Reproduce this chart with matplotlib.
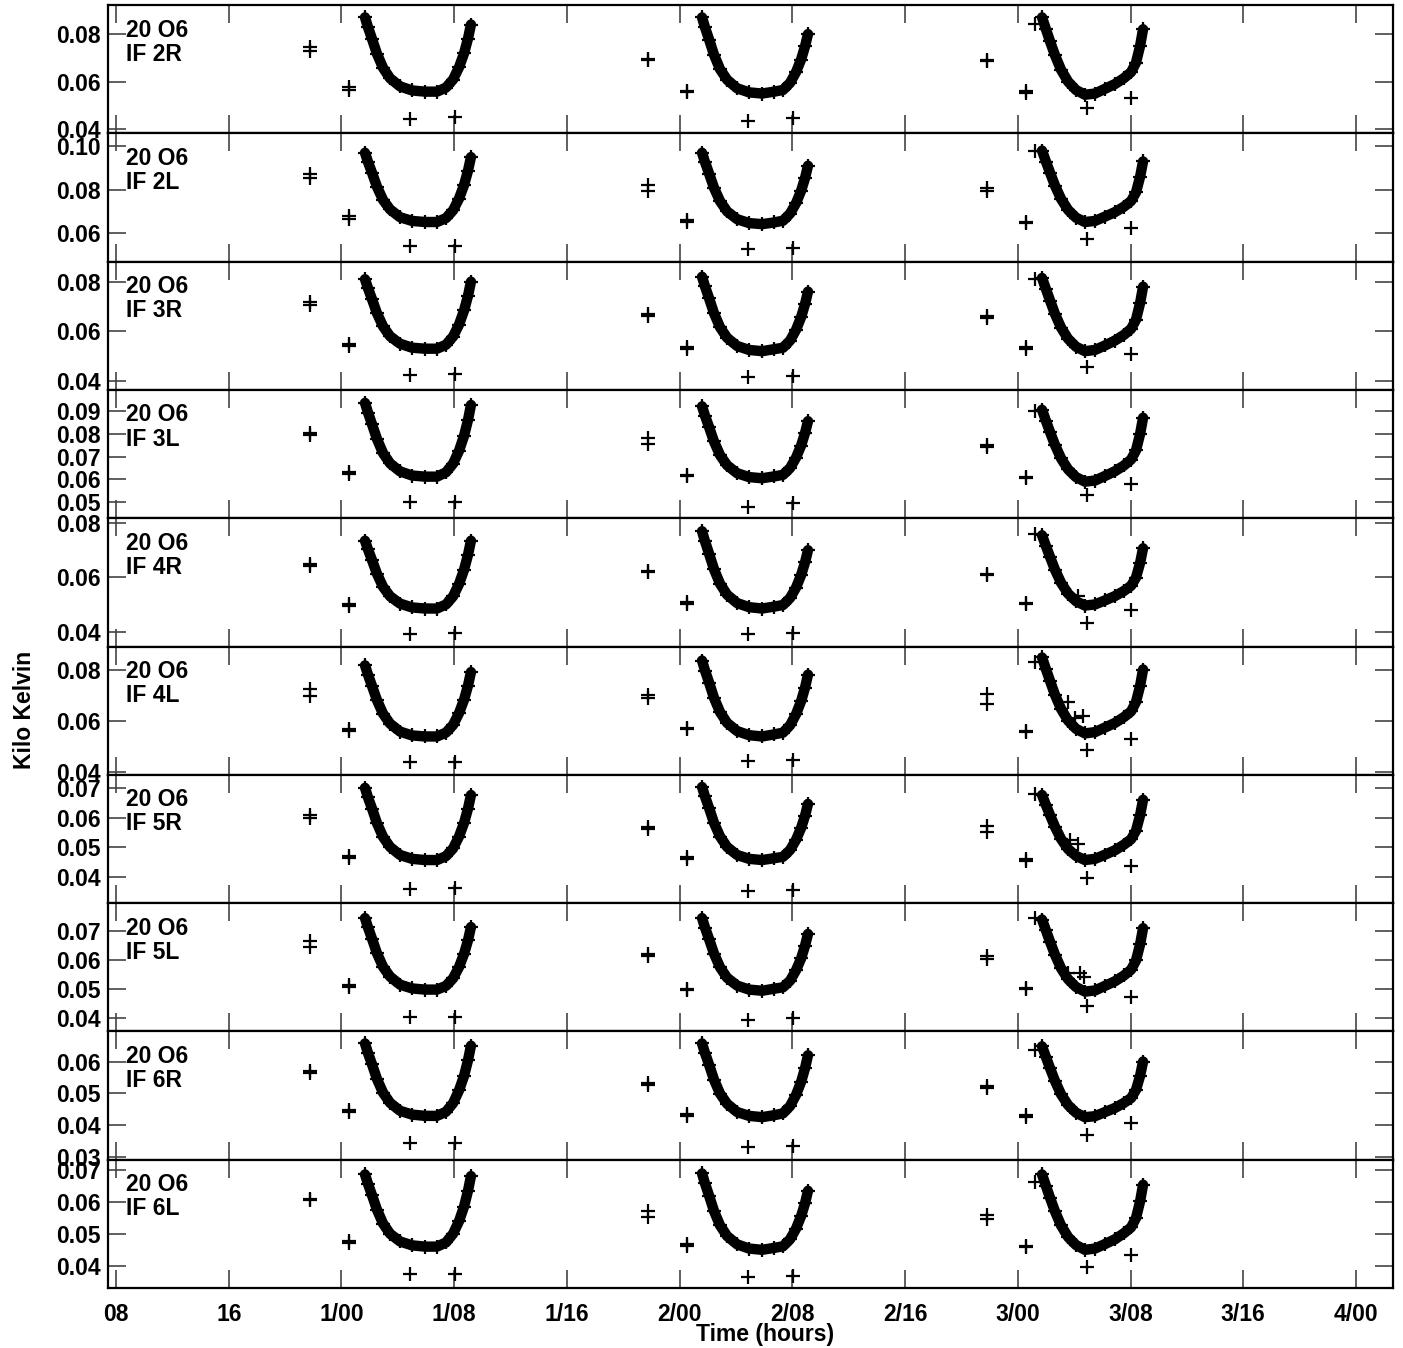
import matplotlib
matplotlib.use("Agg")
import matplotlib.pyplot as plt

plt.rcParams['font.family'] = ['Liberation Sans', 'DejaVu Sans']
plt.rcParams['font.weight'] = 'bold'

# panel names and axes
panels = ['IF 2R', 'IF 2L', 'IF 3R', 'IF 3L', 'IF 4R', 'IF 4L', 'IF 5R', 'IF 5L', 'IF 6R', 'IF 6L']
source = '20 O6'
ylims = [(0.0383, 0.0922), (0.0467, 0.106), (0.0364, 0.0881), (0.0430, 0.0992), (0.0345, 0.0818),
         (0.0388, 0.0890), (0.0312, 0.0744), (0.0352, 0.0797), (0.0291, 0.0695), (0.0331, 0.0731)]
yticks = [[0.04, 0.06, 0.08], [0.06, 0.08, 0.10], [0.04, 0.06, 0.08], [0.05, 0.06, 0.07, 0.08, 0.09],
          [0.04, 0.06, 0.08], [0.04, 0.06, 0.08], [0.04, 0.05, 0.06, 0.07], [0.04, 0.05, 0.06, 0.07],
          [0.03, 0.04, 0.05, 0.06], [0.04, 0.05, 0.06, 0.07]]
xtick_hours = [8, 16, 24, 32, 40, 48, 56, 64, 72, 80, 88, 96]
xtick_labels = ['08', '16', '1/00', '1/08', '1/16', '2/00', '2/08', '2/16', '3/00', '3/08', '3/16', '4/00']

# time samples (hours) of the dense scans
t_day1 = [25.67, 25.88, 26.17, 26.52, 26.95, 27.45, 28.16, 29.01, 29.93, 30.78, 31.42, 31.92, 32.34, 32.70, 32.98, 33.19]
t_day2 = [49.59, 49.80, 50.09, 50.44, 50.87, 51.37, 52.08, 52.93, 53.85, 54.70, 55.34, 55.84, 56.26, 56.62, 56.90, 57.11]
t_day3 = [73.72, 74.00, 74.29, 74.64, 75.07, 75.57, 76.13, 76.77, 77.48, 78.19, 78.90, 79.54, 80.04, 80.39, 80.68, 80.89]

day1_vals = {
    'IF 2R': [.087, .0829, .0779, .0717, .0658, .0614, .0580, .0563, .0558, .0558, .0575, .0609, .0660, .0719, .0781, .0840],
    'IF 2L': [.097, .0928, .0877, .0813, .0752, .0708, .0672, .0655, .0650, .0650, .0668, .0704, .0758, .0821, .0887, .0950],
    'IF 3R': [.081, .0774, .0729, .0673, .0620, .0580, .0550, .0534, .0530, .0530, .0546, .0579, .0627, .0684, .0743, .0800],
    'IF 3L': [.0935, .0893, .0841, .0777, .0715, .0670, .0635, .0617, .0612, .0612, .0631, .0669, .0725, .0791, .0860, .0926],
    'IF 4R': [.0735, .0703, .0663, .0613, .0565, .0530, .0503, .0489, .0485, .0485, .0500, .0530, .0575, .0628, .0683, .0735],
    'IF 4L': [.0816, .0780, .0735, .0680, .0627, .0588, .0557, .0542, .0538, .0538, .0553, .0583, .0629, .0682, .0737, .0790],
    'IF 5R': [.0700, .0668, .0630, .0581, .0535, .0501, .0474, .0461, .0457, .0457, .0470, .0496, .0536, .0582, .0630, .0676],
    'IF 5L': [.0745, .0713, .0673, .0623, .0576, .0542, .0514, .0501, .0497, .0497, .0510, .0536, .0575, .0621, .0668, .0714],
    'IF 6R': [.0657, .0627, .0591, .0545, .0502, .0470, .0445, .0433, .0429, .0429, .0442, .0469, .0509, .0555, .0604, .0650],
    'IF 6L': [.0685, .0656, .0620, .0575, .0532, .0500, .0476, .0464, .0460, .0460, .0473, .0500, .0539, .0585, .0634, .0680],
}
day2_vals = {
    'IF 2R': [.087, .0828, .0777, .0713, .0652, .0608, .0572, .0555, .0550, .0558, .0565, .0595, .0640, .0693, .0748, .0800],
    'IF 2L': [.097, .0927, .0874, .0808, .0746, .0699, .0663, .0645, .0640, .0648, .0656, .0689, .0737, .0794, .0853, .0910],
    'IF 3R': [.082, .0781, .0733, .0673, .0616, .0574, .0541, .0525, .0520, .0528, .0534, .0563, .0606, .0657, .0710, .0760],
    'IF 3L': [.0920, .0879, .0829, .0766, .0706, .0662, .0627, .0610, .0605, .0613, .0620, .0650, .0695, .0748, .0803, .0855],
    'IF 4R': [.0770, .0733, .0687, .0630, .0576, .0536, .0505, .0490, .0485, .0492, .0498, .0524, .0562, .0608, .0655, .0700],
    'IF 4L': [.0835, .0796, .0749, .0689, .0633, .0591, .0559, .0543, .0538, .0546, .0553, .0582, .0625, .0676, .0729, .0780],
    'IF 5R': [.0703, .0671, .0632, .0582, .0536, .0501, .0474, .0461, .0457, .0463, .0468, .0491, .0525, .0565, .0606, .0646],
    'IF 5L': [.0745, .0712, .0672, .0622, .0574, .0538, .0511, .0497, .0493, .0500, .0505, .0528, .0564, .0605, .0649, .0690],
    'IF 6R': [.0657, .0627, .0590, .0543, .0499, .0467, .0441, .0429, .0425, .0431, .0437, .0460, .0495, .0536, .0579, .0620],
    'IF 6L': [.0688, .0657, .0619, .0571, .0526, .0493, .0467, .0454, .0450, .0456, .0461, .0483, .0516, .0555, .0595, .0634],
}
day3_vals = {
    'IF 2R': [.087, .0820, .0769, .0711, .0650, .0600, .0565, .0545, .0550, .0570, .0590, .0615, .0640, .0680, .0750, .0820],
    'IF 2L': [.098, .0929, .0878, .0818, .0757, .0706, .0670, .0650, .0655, .0675, .0696, .0721, .0747, .0787, .0859, .0930],
    'IF 3R': [.0815, .0770, .0724, .0670, .0615, .0570, .0538, .0520, .0525, .0543, .0563, .0586, .0610, .0647, .0714, .0780],
    'IF 3L': [.0905, .0856, .0807, .0751, .0692, .0644, .0610, .0590, .0595, .0615, .0636, .0661, .0687, .0727, .0799, .0870],
    'IF 4R': [.0755, .0715, .0675, .0628, .0580, .0540, .0512, .0496, .0500, .0515, .0531, .0550, .0569, .0599, .0653, .0707],
    'IF 4L': [.0847, .0801, .0755, .0701, .0646, .0600, .0568, .0550, .0555, .0573, .0591, .0614, .0636, .0673, .0736, .0800],
    'IF 5R': [.0676, .0642, .0608, .0569, .0528, .0494, .0471, .0457, .0461, .0475, .0490, .0509, .0527, .0556, .0608, .0660],
    'IF 5L': [.0740, .0702, .0663, .0618, .0571, .0533, .0506, .0490, .0494, .0510, .0526, .0546, .0566, .0598, .0654, .0710],
    'IF 6R': [.0648, .0614, .0579, .0539, .0497, .0463, .0439, .0425, .0428, .0441, .0454, .0470, .0485, .0511, .0555, .0600],
    'IF 6L': [.0685, .0649, .0612, .0570, .0526, .0490, .0465, .0450, .0454, .0468, .0483, .0502, .0520, .0549, .0601, .0653],
}

# isolated scans
t_iso = [21.77, 21.77, 24.54, 24.54, 28.87, 32.06,
         45.76, 45.76, 48.52, 48.52, 52.85, 56.05,
         69.82, 69.82, 72.58, 72.58, 76.91, 80.04, 73.22]
iso_vals = {
    'IF 2R': [.0745, .0730, .0578, .0565, .0443, .0450, .0697, .0690, .0562, .0557, .0433, .0448, .0693, .0688, .0560, .0553, .0488, .0531, .0842],
    'IF 2L': [.0870, .0855, .0680, .0665, .0537, .0540, .0820, .0795, .0657, .0652, .0527, .0530, .0805, .0795, .0652, .0647, .0570, .0620, .0980],
    'IF 3R': [.0720, .0705, .0550, .0540, .0425, .0427, .0670, .0660, .0537, .0530, .0415, .0420, .0660, .0652, .0537, .0530, .0455, .0510, .0810],
    'IF 3L': [.0805, .0795, .0632, .0625, .0500, .0500, .0780, .0755, .0620, .0613, .0478, .0495, .0750, .0740, .0612, .0605, .0530, .0580, .0900],
    'IF 4R': [.0650, .0640, .0502, .0495, .0390, .0393, .0622, .0618, .0508, .0502, .0390, .0396, .0613, .0608, .0505, .0500, .0433, .0480, .0760],
    'IF 4L': [.0725, .0695, .0566, .0560, .0440, .0440, .0700, .0690, .0573, .0567, .0443, .0447, .0705, .0665, .0560, .0555, .0485, .0528, .0830],
    'IF 5R': [.0607, .0600, .0470, .0463, .0360, .0363, .0567, .0562, .0467, .0460, .0353, .0356, .0570, .0550, .0460, .0455, .0397, .0437, .0680],
    'IF 5L': [.0665, .0645, .0512, .0507, .0403, .0403, .0620, .0614, .0500, .0495, .0393, .0400, .0612, .0603, .0503, .0498, .0441, .0472, .0745],
    'IF 6R': [.0570, .0565, .0447, .0441, .0343, .0343, .0532, .0527, .0435, .0430, .0330, .0333, .0523, .0516, .0432, .0427, .0368, .0406, .0635],
    'IF 6L': [.0608, .0604, .0478, .0472, .0375, .0375, .0572, .0553, .0469, .0463, .0366, .0369, .0560, .0547, .0463, .0458, .0397, .0435, .0663],
}
# stray points above the day-3 minimum
extra_t = {
    'IF 4R': [75.71, 76.27],
    'IF 4L': [75.57, 76.06, 76.63],
    'IF 5R': [75.71, 76.27],
    'IF 5L': [75.57, 76.42, 76.70],
}
extra_v = {
    'IF 4R': [.0535, .0530],
    'IF 4L': [.0673, .0610, .0620],
    'IF 5R': [.0525, .0510],
    'IF 5L': [.0555, .0555, .0540],
}

W, H = 1403, 1348
fig = plt.figure(figsize=(W / 100, H / 100), dpi=100)
left, right, top, bottom = 108 / W, 1393 / W, 1 - 5 / H, 1 - 1288 / H
gs = fig.add_gridspec(len(panels), 1, left=left, right=right, top=top, bottom=bottom, hspace=0)

mk = dict(color='k', marker='+', ms=10, mew=1.6, linestyle='none')
for i, name in enumerate(panels):
    ax = fig.add_subplot(gs[i, 0])
    for t, vals in ((t_day1, day1_vals), (t_day2, day2_vals), (t_day3, day3_vals)):
        ax.plot(t, vals[name], color='k', lw=7.5, solid_capstyle='round')
        ax.plot(t, vals[name], **mk)
    ax.plot(t_iso, iso_vals[name], **mk)
    if name in extra_t:
        ax.plot(extra_t[name], extra_v[name], **mk)

    ax.set_xlim(7.43, 98.63)
    ax.set_ylim(*ylims[i])
    ax.set_xticks(xtick_hours)
    ax.set_yticks(yticks[i])
    ax.set_yticklabels(['%.2f' % v for v in yticks[i]])
    if i == len(panels) - 1:
        ax.set_xticklabels(xtick_labels)
    else:
        ax.set_xticklabels([])
    ax.tick_params(direction='in', length=13, width=1.2, top=True, right=True,
                   labelsize=16.5, color='#444444')
    ax.tick_params(axis='x', pad=11)
    ax.tick_params(axis='y', pad=5)
    for s in ax.spines.values():
        s.set_linewidth(1.6)
    ax.text(0.014, 0.805, source, transform=ax.transAxes, fontsize=16.5, fontweight='bold', va='center')
    ax.text(0.014, 0.617, name, transform=ax.transAxes, fontsize=16.5, fontweight='bold', va='center')

fig.text(765 / W, 1 - 1335 / H, 'Time (hours)', ha='center', va='center', fontsize=16.5, fontweight='bold')
fig.text(25 / W, 1 - 710 / H, 'Kilo Kelvin', ha='center', va='center', rotation=90, fontsize=16.5, fontweight='bold')

fig.savefig('out.png', dpi=100)
